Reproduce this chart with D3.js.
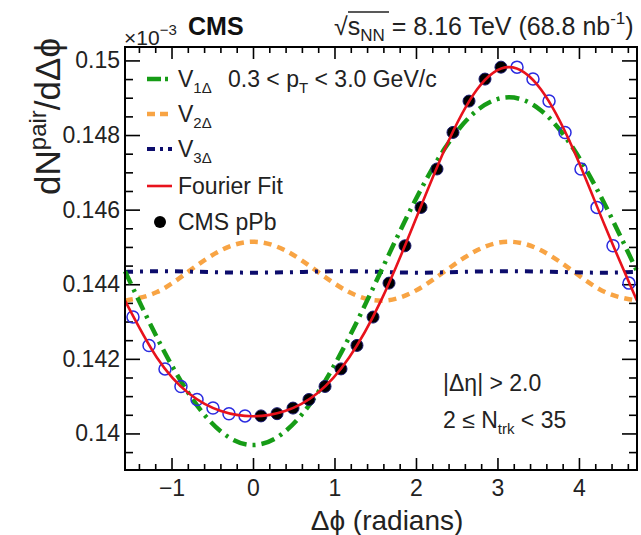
<!DOCTYPE html>
<html>
<head>
<meta charset="utf-8">
<script src="https://cdn.jsdelivr.net/npm/d3@7"></script>
<style>
  body { margin: 0; background: white; }
  svg text { font-family: "Liberation Sans", Arial, Helvetica, sans-serif; }
</style>
</head>
<body>
<div id="chart"></div>
<script>
// bin centres (radians) and pair yields
let binPhi = [-1.473, -1.276, -1.080, -0.884, -0.687, -0.491, -0.295, -0.098,
  0.098, 0.295, 0.491, 0.687, 0.884, 1.080, 1.276, 1.473,
  1.669, 1.865, 2.062, 2.258, 2.454, 2.651, 2.847, 3.043,
  3.240, 3.436, 3.633, 3.829, 4.025, 4.222, 4.418, 4.614];
// measured points (0 < dphi < pi), drawn filled
let measured = [0.14047, 0.14053, 0.14068, 0.14091, 0.14126, 0.14173, 0.14236, 0.14312,
  0.14403, 0.14503, 0.14606, 0.14709, 0.14807, 0.14891, 0.14950, 0.14982];
// reflected points, drawn open
let reflectedLow = [0.14312, 0.14236, 0.14173, 0.14126, 0.14091, 0.14068, 0.14053, 0.14047];
let reflectedHigh = [0.14982, 0.14950, 0.14891, 0.14807, 0.14709, 0.14606, 0.14503, 0.14403];

// curves read at steps of pi/8 from -pi/2 to 3pi/2
let curvePhi = [-1.5708, -1.1781, -0.7854, -0.3927, 0, 0.3927, 0.7854, 1.1781, 1.5708,
  1.9635, 2.3562, 2.7489, 3.1416, 3.5343, 3.9270, 4.3197, 4.7124];
let v1Curve = [0.14435, 0.14257, 0.14106, 0.14005, 0.13969, 0.14005, 0.14106, 0.14257, 0.14435,
  0.14613, 0.14765, 0.14866, 0.14901, 0.14866, 0.14765, 0.14613, 0.14435];
let v2Curve = [0.14356, 0.14379, 0.14435, 0.14491, 0.14514, 0.14491, 0.14435, 0.14379, 0.14356,
  0.14379, 0.14435, 0.14491, 0.14514, 0.14491, 0.14435, 0.14379, 0.14356];
let v3Curve = [0.14433, 0.14435, 0.14434, 0.14432, 0.14431, 0.14432, 0.14434, 0.14435, 0.14433,
  0.14431, 0.14432, 0.14434, 0.14435, 0.14434, 0.14432, 0.14431, 0.14433];
let fitCurve = [0.14356, 0.14203, 0.14107, 0.14060, 0.14046, 0.14060, 0.14107, 0.14203, 0.14356,
  0.14556, 0.14763, 0.14922, 0.14982, 0.14922, 0.14763, 0.14556, 0.14356];

let xMajor = [-1, 0, 1, 2, 3, 4];
let xMinor = [-1.4, -1.2, -0.8, -0.6, -0.4, -0.2, 0.2, 0.4, 0.6, 0.8, 1.2, 1.4, 1.6, 1.8,
  2.2, 2.4, 2.6, 2.8, 3.2, 3.4, 3.6, 3.8, 4.2, 4.4, 4.6];
let yMajor = [0.14, 0.142, 0.144, 0.146, 0.148, 0.15];
let yMinor = [0.1395, 0.1405, 0.141, 0.1415, 0.1425, 0.143, 0.1435, 0.1445, 0.145, 0.1455,
  0.1465, 0.147, 0.1475, 0.1485, 0.149, 0.1495];

let W = 641, H = 535;
let padL = 125, padR = 637, padT = 47, padB = 470;

let svg = d3.select("#chart").append("svg")
  .attr("width", W).attr("height", H);

let x = d3.scaleLinear().domain([-Math.PI/2, 3*Math.PI/2]).range([padL, padR]);
let y = d3.scaleLinear().domain([0.13902, 0.15036]).range([padB, padT]);

let green = "#169c16", orange = "#f8a444", navy = "#0c0c6c", red = "#e8121c", blue = "#2b2be0";
let ink = "#222";

// axes
function styleAxis(g){
  g.select(".domain").remove();
  g.selectAll(".tick line").attr("stroke", "black").attr("stroke-width", 1.6);
  g.selectAll("text").style("font-size", "23px").attr("fill", ink);
}
svg.append("g").attr("transform", `translate(0,${padB})`)
  .call(d3.axisBottom(x).tickValues(xMajor).tickSize(-12).tickPadding(10).tickFormat(d3.format("d")))
  .call(styleAxis);
svg.append("g").attr("transform", `translate(0,${padB})`)
  .call(d3.axisBottom(x).tickValues(xMinor).tickSize(-6).tickFormat(""))
  .call(styleAxis);
svg.append("g").attr("transform", `translate(0,${padT})`)
  .call(d3.axisTop(x).tickValues(xMajor).tickSize(-12).tickFormat(""))
  .call(styleAxis);
svg.append("g").attr("transform", `translate(0,${padT})`)
  .call(d3.axisTop(x).tickValues(xMinor).tickSize(-6).tickFormat(""))
  .call(styleAxis);
svg.append("g").attr("transform", `translate(${padL},0)`)
  .call(d3.axisLeft(y).tickValues(yMajor).tickSize(-15).tickPadding(5)
    .tickFormat(d => String(+d.toFixed(3))))
  .call(styleAxis);
svg.append("g").attr("transform", `translate(${padL},0)`)
  .call(d3.axisLeft(y).tickValues(yMinor).tickSize(-8).tickFormat(""))
  .call(styleAxis);
svg.append("g").attr("transform", `translate(${padR},0)`)
  .call(d3.axisRight(y).tickValues(yMajor).tickSize(-15).tickFormat(""))
  .call(styleAxis);
svg.append("g").attr("transform", `translate(${padR},0)`)
  .call(d3.axisRight(y).tickValues(yMinor).tickSize(-8).tickFormat(""))
  .call(styleAxis);

// curves
let line = d3.line().x(d => x(d[0])).y(d => y(d[1])).curve(d3.curveNatural);
let plot = svg.append("g");
function drawCurve(vals, color, width, dash){
  plot.append("path")
    .datum(curvePhi.map((p, i) => [p, vals[i]]))
    .attr("d", line)
    .attr("fill", "none")
    .attr("stroke", color)
    .attr("stroke-width", width)
    .attr("stroke-dasharray", dash);
}
drawCurve(v2Curve, orange, 4.5, "8,6");
drawCurve(v3Curve, navy, 4, "8,7,3,7");
drawCurve(v1Curve, green, 4.5, "14,6,3,6");

// points
let openPts = binPhi.slice(0, 8).map((p, i) => [p, reflectedLow[i]])
  .concat(binPhi.slice(24).map((p, i) => [p, reflectedHigh[i]]));
let filledPts = binPhi.slice(8, 24).map((p, i) => [p, measured[i]]);
plot.selectAll(".open").data(openPts).enter().append("circle")
  .attr("cx", d => x(d[0])).attr("cy", d => y(d[1])).attr("r", 6)
  .attr("fill", "none").attr("stroke", blue).attr("stroke-width", 1.5);
plot.selectAll(".filled").data(filledPts).enter().append("circle")
  .attr("cx", d => x(d[0])).attr("cy", d => y(d[1])).attr("r", 6)
  .attr("fill", "black").attr("stroke", "#1a1a70").attr("stroke-width", 1);

drawCurve(fitCurve, red, 2.6, null);

// frame
svg.append("rect")
  .attr("x", padL).attr("y", padT)
  .attr("width", padR-padL).attr("height", padB-padT)
  .attr("fill", "none").attr("stroke", "black").attr("stroke-width", 2);

// legend
let legendRows = [
  {label: "V", sub: "1\u0394", color: green, width: 4.5, dash: "14,4,3,4", y: 79},
  {label: "V", sub: "2\u0394", color: orange, width: 4.5, dash: "8,5", y: 114},
  {label: "V", sub: "3\u0394", color: navy, width: 4, dash: "8,5,3,5", y: 149},
  {label: "Fourier Fit", sub: null, color: red, width: 2.6, dash: null, y: 186}
];
let legend = svg.append("g");
legendRows.forEach(row => {
  legend.append("line")
    .attr("x1", 147).attr("x2", 172)
    .attr("y1", row.y).attr("y2", row.y)
    .attr("stroke", row.color).attr("stroke-width", row.width)
    .attr("stroke-dasharray", row.dash);
  let t = legend.append("text")
    .attr("x", 178).attr("y", row.y + 8)
    .style("font-size", "23px").attr("fill", ink)
    .text(row.label);
  if (row.sub) t.append("tspan").attr("dy", 6).style("font-size", "15px").text(row.sub);
});
legend.append("circle").attr("cx", 160).attr("cy", 222).attr("r", 6).attr("fill", "black");
legend.append("text").attr("x", 178).attr("y", 230)
  .style("font-size", "23px").attr("fill", ink).text("CMS pPb");

// annotations
let pt = svg.append("text").attr("x", 228).attr("y", 87)
  .style("font-size", "23px").attr("fill", ink);
pt.append("tspan").text("0.3 < p");
pt.append("tspan").attr("dy", 6).style("font-size", "15px").text("T");
pt.append("tspan").attr("dy", -6).text(" < 3.0 GeV/c");

svg.append("text").attr("x", 443).attr("y", 391)
  .style("font-size", "23px").attr("fill", ink).text("|\u0394\u03b7| > 2.0");
let nt = svg.append("text").attr("x", 443).attr("y", 428)
  .style("font-size", "23px").attr("fill", ink);
nt.append("tspan").text("2 \u2264 N");
nt.append("tspan").attr("dy", 6).style("font-size", "15px").text("trk");
nt.append("tspan").attr("dy", -6).text(" < 35");

// header
let ex = svg.append("text").attr("x", 124).attr("y", 45)
  .style("font-size", "21px").attr("fill", ink);
ex.append("tspan").text("\u00d710");
ex.append("tspan").attr("dy", -10).style("font-size", "15px").text("\u22123");
svg.append("text").attr("x", 188).attr("y", 35)
  .style("font-size", "25px").style("font-weight", "bold").attr("fill", "#111").text("CMS");

let en = svg.append("text").attr("x", 334).attr("y", 35)
  .style("font-size", "25px").attr("fill", ink);
en.append("tspan").text("\u221a");
en.append("tspan").text("s");
en.append("tspan").attr("dy", 6).style("font-size", "17px").text("NN");
en.append("tspan").attr("dy", -6).text(" = 8.16 TeV (68.8 nb");
en.append("tspan").attr("dy", -11).style("font-size", "17px").text("-1");
en.append("tspan").attr("dy", 11).text(")");
svg.append("line").attr("x1", 348).attr("x2", 389).attr("y1", 12).attr("y2", 12)
  .attr("stroke", ink).attr("stroke-width", 1.5);

// axis titles
svg.append("text").attr("x", 387).attr("y", 530).attr("text-anchor", "middle")
  .style("font-size", "28px").attr("fill", ink).text("\u0394\u03d5 (radians)");
let yt = svg.append("text")
  .attr("transform", "translate(60,38) rotate(-90)")
  .attr("text-anchor", "end")
  .style("font-size", "35px").attr("fill", ink);
yt.append("tspan").text("dN");
yt.append("tspan").attr("dy", -14).style("font-size", "24px").text("pair");
yt.append("tspan").attr("dy", 14).text("/d\u0394\u03d5");
</script>
</body>
</html>
